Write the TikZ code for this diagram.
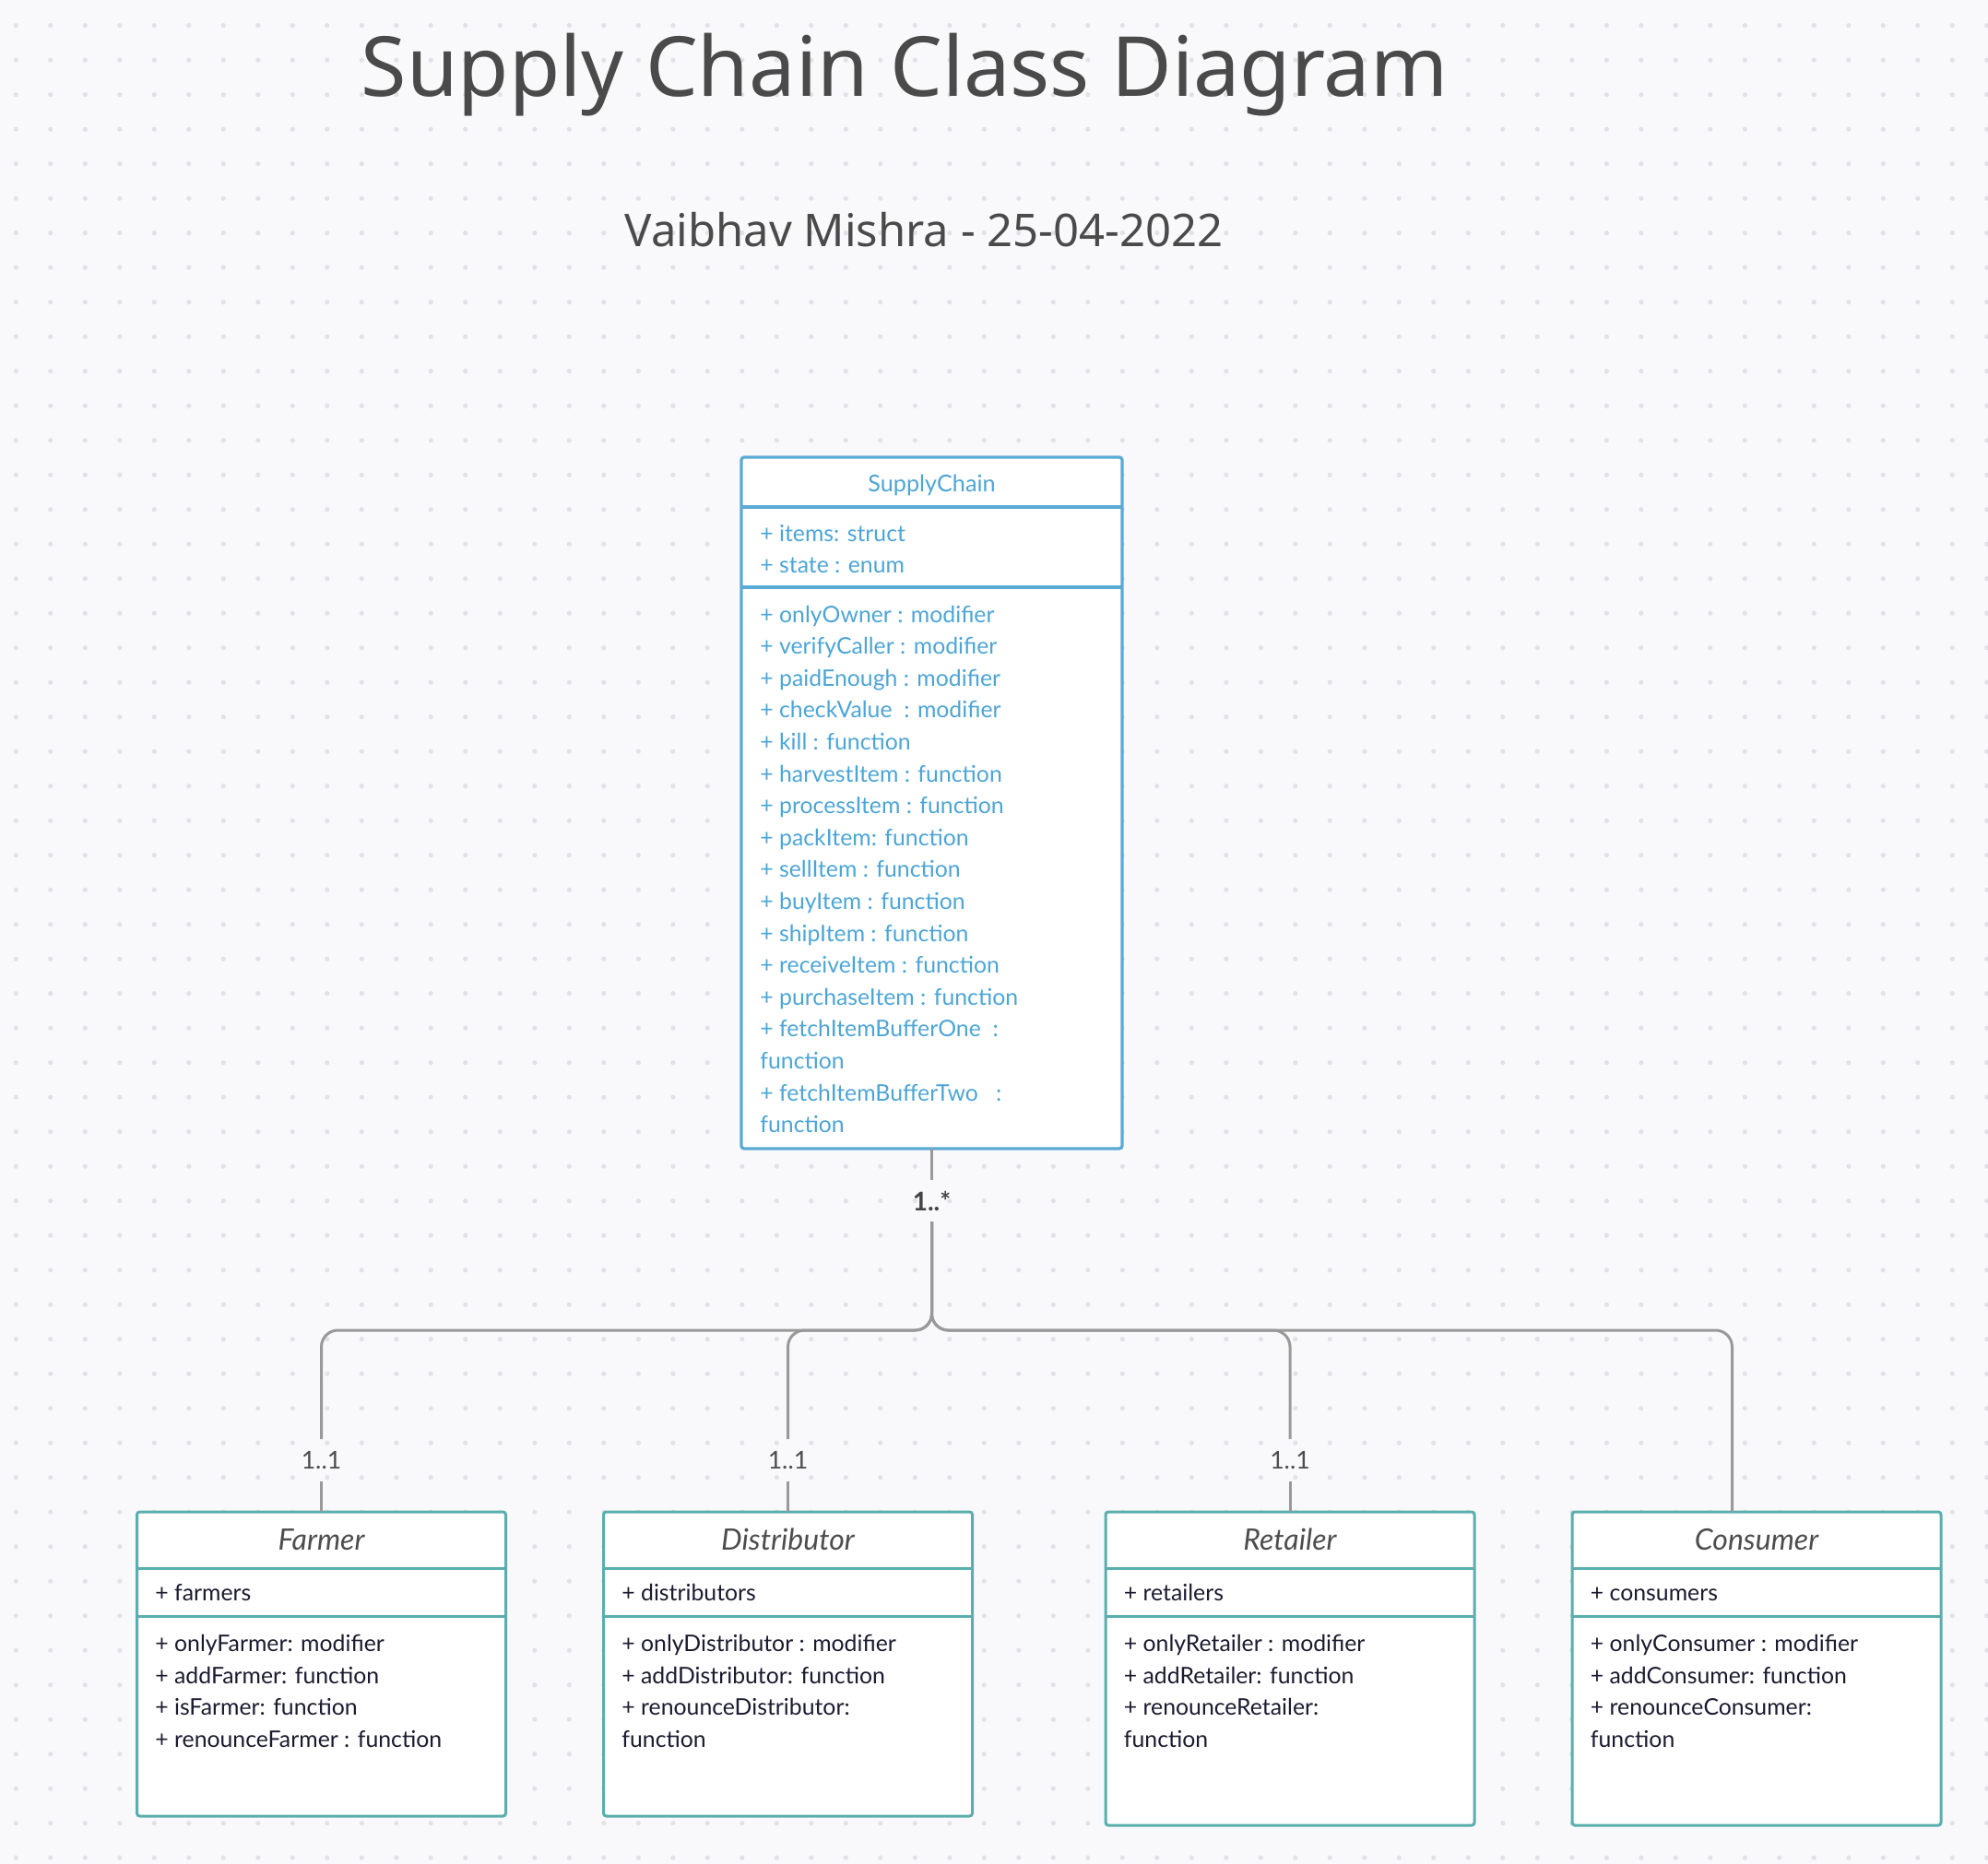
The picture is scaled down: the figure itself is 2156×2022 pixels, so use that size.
\documentclass[tikz,border=0pt]{standalone}
\usepackage{fontspec}
\setmainfont{Lato}
\newfontfamily\titlefont{Noto Sans}
\usetikzlibrary{calc}
\definecolor{bgc}{HTML}{F9F9FB}
\definecolor{dotc}{HTML}{E2E2E6}
\definecolor{scblue}{HTML}{5AAAD6}
\definecolor{sctext}{HTML}{4DA5D6}
\definecolor{tealc}{HTML}{5AAEAE}
\definecolor{bodyc}{HTML}{1B1B30}
\definecolor{hdrc}{HTML}{4D4D4D}
\definecolor{connc}{HTML}{999999}
\definecolor{titlec}{HTML}{4A4A4A}
\definecolor{multc}{HTML}{444444}

\newcommand{\umlclass}[9]{%
  % #1 name, #2 left x, #3 height (pt), #4 title, #5 member, #6-#9 method lines
  \node[tbox, minimum height=#3] (#1) at (#2,1640) {};
  \draw[tdiv] (#1.west |- 0,1701) -- (#1.east |- 0,1701);
  \draw[tdiv] (#1.west |- 0,1753) -- (#1.east |- 0,1753);
  \node[hdr] (#1-h) at (#1.north |- 0,1681.7) {#4};
  \node[btxt] (#1-a) at ($(#1.west |- 0,1736.7)+(19.5,0)$) {#5};
  \node[btxt] (#1-m1) at ($(#1.west |- 0,1791.7)+(19.5,0)$) {#6};
  \node[btxt] (#1-m2) at ($(#1.west |- 0,1826.3)+(19.5,0)$) {#7};
  \node[btxt] (#1-m3) at ($(#1.west |- 0,1860.9)+(19.5,0)$) {#8};
  \node[btxt] (#1-m4) at ($(#1.west |- 0,1895.5)+(19.5,0)$) {#9};
}

\begin{document}
\begin{tikzpicture}[x=0.5pt,y=-0.5pt,
  scbox/.style={draw=scblue, line width=1.6pt, fill=white, rounded corners=1.5pt, inner sep=0pt, outer sep=0pt, anchor=north west, minimum width=206.5pt},
  tbox/.style={draw=tealc, line width=1.5pt, fill=white, rounded corners=1.5pt, inner sep=0pt, outer sep=0pt, anchor=north west, minimum width=200pt},
  scdiv/.style={draw=scblue, line width=1.6pt},
  tdiv/.style={draw=tealc, line width=1.5pt},
  sctxt/.style={anchor=base west, inner sep=0pt, text=sctext, font=\fontsize{12.4pt}{15pt}\selectfont},
  btxt/.style={anchor=base west, inner sep=0pt, text=bodyc, font=\fontsize{12.4pt}{15pt}\selectfont},
  hdr/.style={anchor=base, inner sep=0pt, text=hdrc, font=\itshape\fontsize{16pt}{19pt}\selectfont},
  schdr/.style={anchor=base, inner sep=0pt, text=sctext, font=\fontsize{12.6pt}{15pt}\selectfont},
  conn/.style={draw=connc, line width=1.5pt, rounded corners=9pt},
  mult/.style={inner sep=0pt, outer sep=0pt, minimum height=23pt, text=hdrc, font=\fontsize{13.3pt}{15pt}\selectfont},
  multb/.style={inner sep=0pt, outer sep=0pt, minimum height=22.5pt, text=multc, font=\bfseries\fontsize{14pt}{16pt}\selectfont},
  ttl/.style={anchor=base, inner sep=0pt, text=titlec, font=\titlefont\fontsize{45pt}{52pt}\selectfont},
  subttl/.style={anchor=base, inner sep=0pt, text=titlec, font=\titlefont\fontsize{24.5pt}{28pt}\selectfont},
]
% background and dot grid
\fill[bgc] (0,0) rectangle (2156,2022);
\useasboundingbox (0,0) rectangle (2156,2022);
\foreach \i in {0,...,57} {
  \foreach \j in {0,...,53} {
    \fill[dotc] ({17.3+37.5*\i},{27.7+37.5*\j}) circle (1.3pt);
  }
}

% titles
\node[ttl] (title) at (981,105) {Supply Chain Class Diagram};
\node[subttl] (subtitle) at (1002,268) {Vaibhav Mishra - 25-04-2022};

% SupplyChain class
\node[scbox, minimum height=375pt] (sc) at (804,496) {};
\draw[scdiv] (sc.west |- 0,550) -- (sc.east |- 0,550);
\draw[scdiv] (sc.west |- 0,637) -- (sc.east |- 0,637);
\node[schdr] (sc-h) at (sc.north |- 0,533.3) {SupplyChain};
\node[sctxt] (sc-a1) at (824,587.3) {+ items: struct};
\node[sctxt] (sc-a2) at (824,621.7) {+ state : enum};
\foreach \t [count=\k from 0] in {
  {+ onlyOwner : modifier},
  {+ verifyCaller : modifier},
  {+ paidEnough : modifier},
  {+ checkValue\ \ : modifier},
  {+ kill : function},
  {+ harvestItem : function},
  {+ processItem : function},
  {+ packItem: function},
  {+ sellItem : function},
  {+ buyItem : function},
  {+ shipItem : function},
  {+ receiveItem : function},
  {+ purchaseItem : function},
  {+ fetchItemBufferOne\ \ :},
  {function},
  {+ fetchItemBufferTwo\ \ \ :},
  {function}} {
  \node[sctxt] (sc-m\k) at (824,{675+34.6*\k}) {\t};
}

% role classes
\umlclass{farmer}{148.5}{165pt}{Farmer}{+ farmers}{+ onlyFarmer: modifier}{+ addFarmer: function}{+ isFarmer: function}{+ renounceFarmer : function}
\umlclass{distributor}{654.5}{165pt}{Distributor}{+ distributors}{+ onlyDistributor : modifier}{+ addDistributor: function}{+ renounceDistributor:}{function}
\umlclass{retailer}{1199}{170pt}{Retailer}{+ retailers}{+ onlyRetailer : modifier}{+ addRetailer: function}{+ renounceRetailer:}{function}
\umlclass{consumer}{1705}{170pt}{Consumer}{+ consumers}{+ onlyConsumer : modifier}{+ addConsumer: function}{+ renounceConsumer:}{function}

% connectors
\coordinate (bus) at (sc.south |- 0,1443);
\node[multb] (lstar) at (sc.south |- 0,1302.5) {1..*};
\node[mult] (lf) at (farmer.north |- 0,1584) {1..1};
\node[mult] (ld) at (distributor.north |- 0,1584) {1..1};
\node[mult] (lr) at (retailer.north |- 0,1584) {1..1};
\coordinate (cin) at ($(consumer.north)+(-26.5,0)$);

\draw[conn] (sc.south) -- (lstar.north);
\draw[conn] (lstar.south) -- (bus) -| (lf.north);
\draw[conn] (lf.south) -- (farmer.north);
\draw[conn] (lstar.south) -- (bus) -| (ld.north);
\draw[conn] (ld.south) -- (distributor.north);
\draw[conn] (lstar.south) -- (bus) -| (lr.north);
\draw[conn] (lr.south) -- (retailer.north);
\draw[conn] (lstar.south) -- (bus) -| (cin);
\end{tikzpicture}
\end{document}
